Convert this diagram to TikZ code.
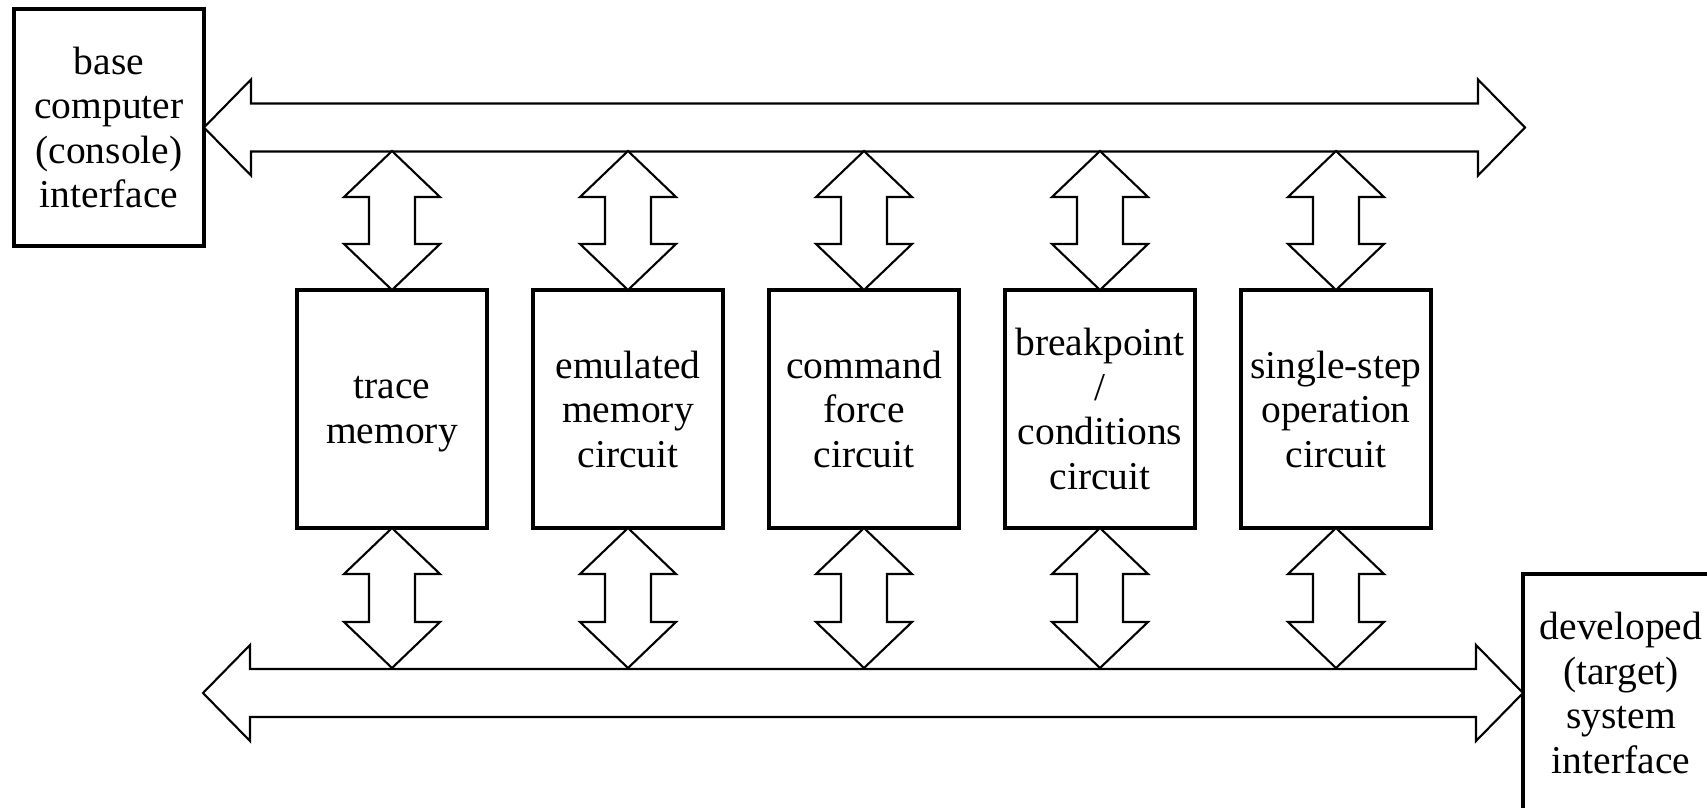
\documentclass[tikz,border=0pt]{standalone}
\usepackage{fontspec}
\setmainfont{Liberation Serif}
\usetikzlibrary{calc}
\tikzset{
  blk/.style={draw, line width=3.3bp, minimum width=190bp, minimum height=238bp, outer sep=0pt, inner sep=0pt, align=center, font=\fontsize{39.5bp}{44.5bp}\selectfont},
  lbl/.style={align=center, inner sep=0pt, font=\fontsize{39.5bp}{44.5bp}\selectfont},
  fatarrow/.style={draw, fill=white, line width=2.1bp, line join=miter},
}
\newcommand\vdbl[2]{\draw[fatarrow] let \p1=#1, \p2=#2 in
  (\x1,\y1) -- (\x1+48bp,\y1-46bp) -- (\x1+23bp,\y1-46bp) -- (\x1+23bp,\y2+46bp) -- (\x1+48bp,\y2+46bp)
  -- (\x1,\y2) -- (\x1-48bp,\y2+46bp) -- (\x1-23bp,\y2+46bp) -- (\x1-23bp,\y1-46bp) -- (\x1-48bp,\y1-46bp) -- cycle;}
\newcommand\hdbl[2]{\draw[fatarrow] let \p1=#1, \p2=#2 in
  (\x1,\y1) -- (\x1+47bp,\y1+48bp) -- (\x1+47bp,\y1+24bp) -- (\x2-47bp,\y1+24bp) -- (\x2-47bp,\y1+48bp)
  -- (\x2,\y1) -- (\x2-47bp,\y1-48bp) -- (\x2-47bp,\y1-24bp) -- (\x1+47bp,\y1-24bp) -- (\x1+47bp,\y1-48bp) -- cycle;}
\begin{document}
\begin{tikzpicture}[x=1bp,y=-1bp]
\useasboundingbox (0,0) rectangle (1707,808);
\clip (0,0) rectangle (1707,808);
% interface boxes
\node[blk, minimum height=237bp] (base) at (109,127.5) {base\\computer\\(console)\\interface};
\node[blk, minimum width=196bp] (dev) at (1621,693) {developed\\(target)\\system\\interface};
% function boxes
\node[blk] (tm) at (392,409) {};
\node[lbl] (tmtext) at (392,414) {trace\\memory};
\node[blk] (em) at (628,409) {emulated\\memory\\circuit};
\node[blk] (cf) at (864,409) {command\\force\\circuit};
\node[blk] (bp) at (1100,409) {breakpoint\\/\\conditions\\circuit};
\node[blk] (ss) at (1336,409) {single-step\\operation\\circuit};
% bus reference coordinates
\coordinate (tbusR) at (1525,127.5);
\coordinate (tbusB) at (0,151);
\coordinate (bbusL) at (203,693);
\coordinate (bbusT) at (0,668);
% buses
\hdbl{(base.east)}{(tbusR)}
\hdbl{(bbusL)}{(dev.west)}
% vertical connectors
\foreach \bx in {tm,em,cf,bp,ss}{
  \vdbl{(\bx.north |- tbusB)}{(\bx.north)}
  \vdbl{(\bx.south)}{(\bx.south |- bbusT)}
}
\end{tikzpicture}
\end{document}
